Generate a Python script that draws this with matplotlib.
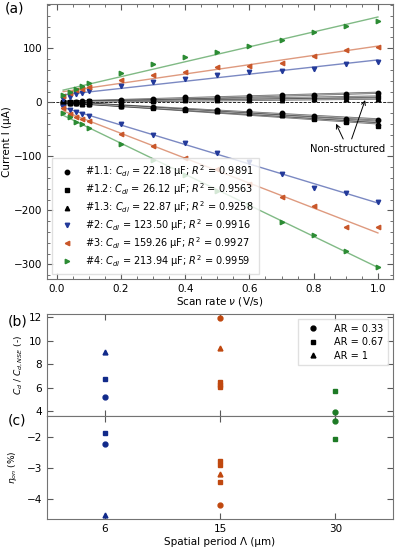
import numpy as np
import matplotlib
matplotlib.use('Agg')
import matplotlib.pyplot as plt

# scan rates (V/s)
scan_rate = [0.02, 0.04, 0.06, 0.08, 0.1, 0.2, 0.3, 0.4, 0.5, 0.6, 0.7, 0.8, 0.9, 1.0]

# anodic / cathodic currents (uA)
s11_an = [0.5, 1.0, 1.5, 2.0, 2.5, 5, 6, 9, 9, 11, 13, 14, 16, 17]
s11_ca = [-0.5, -1.0, -1.5, -2.0, -2.5, -6, -9, -12, -15, -17, -20, -26, -30, -32]
s12_an = [0.3, 0.8, 1.2, 1.5, 2.0, 3, 4, 6, 6, 7, 8, 9, 9, 10]
s12_ca = [-0.8, -1.5, -2.0, -2.5, -3.0, -7, -10, -14, -17, -20, -24, -30, -36, -44]
s13_an = [0.2, 0.5, 0.8, 1.0, 1.3, 2, 3, 4, 4, 5, 5, 6, 6, 6]
s13_ca = [-0.6, -1.2, -1.8, -2.3, -2.8, -7, -9, -13, -16, -19, -23, -29, -34, -38]
s2_an = [7, 10, 15, 17, 21, 30, 37, 44, 50, 56, 58, 62, 70, 75]
s2_ca = [-9, -15, -18, -21, -25, -41, -60, -75, -93, -111, -133, -159, -167, -185]
s3_an = [12, 18, 22, 25, 28, 41, 50, 57, 65, 67, 73, 85, 97, 103]
s3_ca = [-11, -21, -27, -30, -35, -58, -81, -103, -124, -152, -176, -192, -231, -231]
s4_an = [13, 19, 24, 30, 35, 54, 70, 83, 94, 105, 115, 131, 142, 150]
s4_ca = [-20, -27, -37, -41, -47, -78, -106, -135, -165, -191, -222, -245, -275, -305]

labels_a = [r'#1.1: $C_{dl}$ = 22.18 µF; $R^2$ = 0.9891',
            r'#1.2: $C_{dl}$ = 26.12 µF; $R^2$ = 0.9563',
            r'#1.3: $C_{dl}$ = 22.87 µF; $R^2$ = 0.9258',
            r'#2: $C_{dl}$ = 123.50 µF; $R^2$ = 0.9916',
            r'#3: $C_{dl}$ = 159.26 µF; $R^2$ = 0.9927',
            r'#4: $C_{dl}$ = 213.94 µF; $R^2$ = 0.9959']

# panels b and c: spatial period, aspect ratio, value
periods = ['6', '15', '30']
b_period = [0, 0, 0, 1, 1, 1, 1, 1, 2, 2]
b_ar = ['0.33', '0.67', '1', '0.33', '1', '0.67', '0.67', '0.67', '0.67', '0.33']
b_val = [5.22, 6.75, 9.05, 11.9, 9.33, 6.45, 6.25, 6.05, 5.7, 3.94]
c_period = [0, 0, 0, 1, 1, 1, 1, 1, 2, 2]
c_ar = ['0.67', '0.33', '1', '0.67', '0.67', '0.67', '1', '0.33', '0.33', '0.67']
c_val = [-1.87, -2.2, -4.5, -2.78, -2.9, -3.44, -3.18, -4.18, -1.48, -2.06]

blue = '#233a9a'
orange = '#c9572a'
green = '#2c8c34'
period_colors = ['#112a8a', '#c0480f', '#1d7a25']
ar_markers = {'0.33': 'o', '0.67': 's', '1': '^'}

plt.rcParams['font.size'] = 7.5
plt.rcParams['axes.edgecolor'] = '0.45'
plt.rcParams['xtick.color'] = '0.35'
plt.rcParams['ytick.color'] = '0.35'
plt.rcParams['xtick.labelcolor'] = 'black'
plt.rcParams['ytick.labelcolor'] = 'black'

fig = plt.figure(figsize=(3.99, 5.47), dpi=100)
ax_a = fig.add_axes([0.118, 0.49, 0.867, 0.5027])
ax_b = fig.add_axes([0.118, 0.2395, 0.867, 0.1865])
ax_c = fig.add_axes([0.118, 0.0512, 0.867, 0.1883])

v = np.array(scan_rate)


def fit_line(ax, y, color, alpha, lw):
    p = np.polyfit(v, y, 1)
    ax.plot(v, np.polyval(p, v), color=color, alpha=alpha, lw=lw, zorder=2)


series = [(s11_an, s11_ca, 'k', 'o', 0.8),
          (s12_an, s12_ca, 'k', 's', 0.8),
          (s13_an, s13_ca, 'k', '^', 0.8),
          (s2_an, s2_ca, blue, 'v', 0.6),
          (s3_an, s3_ca, orange, '<', 0.6),
          (s4_an, s4_ca, green, '>', 0.6)]

ax_a.axhline(0, color='k', ls='--', lw=0.6, zorder=1)
for (an, ca, col, mk, al), lab in zip(series, labels_a):
    for y in (an, ca):
        if col == 'k':
            fit_line(ax_a, y, '0.2', 0.7, 1.6)
            fit_line(ax_a, y, '0.7', 1.0, 0.6)
        else:
            fit_line(ax_a, y, col, al, 1.0)
    ax_a.plot(v, an, ls='none', marker=mk, color=col, ms=3.2, zorder=3, label=lab)
    ax_a.plot(v, ca, ls='none', marker=mk, color=col, ms=3.2, zorder=3)

ax_a.annotate('Non-structured', xy=(0.963, 9), xytext=(0.907, -87),
              ha='center', va='center', fontsize=7.2,
              arrowprops=dict(arrowstyle='->', color='k', lw=0.7))
ax_a.annotate('Non-structured', xy=(0.866, -35), xytext=(0.907, -87),
              ha='center', va='center', fontsize=7.2, alpha=0,
              arrowprops=dict(arrowstyle='->', color='k', lw=0.7))

ax_a.set_xlim(-0.03, 1.047)
ax_a.set_ylim(-327, 182)
ax_a.set_xticks(np.arange(0, 1.01, 0.2))
ax_a.set_xticks(np.arange(0, 1.01, 0.05), minor=True)
ax_a.set_yticks([-300, -200, -100, 0, 100])
ax_a.set_yticks(np.arange(-320, 181, 20), minor=True)
ax_a.set_xlabel(r'Scan rate $\nu$ (V/s)', labelpad=1)
ax_a.set_ylabel('Current I (µA)', labelpad=1)
ax_a.tick_params(which='both', direction='in', top=True, right=True)
ax_a.tick_params(which='major', length=4)
ax_a.tick_params(which='minor', length=2)
ax_a.legend(loc='lower left', fontsize=7.0, handletextpad=0.8, borderpad=0.55,
            labelspacing=0.22, framealpha=0.8, edgecolor='0.85', fancybox=False,
            bbox_to_anchor=(0.0, 0.0))

# panel b
for p, ar, val in zip(b_period, b_ar, b_val):
    ax_b.plot(p, val, ls='none', marker=ar_markers[ar], color=period_colors[p], ms=3.5)
for ar in ['0.33', '0.67', '1']:
    ax_b.plot([], [], ls='none', marker=ar_markers[ar], color='k', ms=3.5, label='AR = ' + ar)
ax_b.legend(loc='upper right', fontsize=7.0, framealpha=0.8, edgecolor='0.85',
            fancybox=False, handletextpad=1.2, borderpad=0.5, labelspacing=0.35)
ax_b.set_xlim(-0.5, 2.5)
ax_b.set_ylim(3.6, 12.25)
ax_b.set_yticks([4, 6, 8, 10, 12])
ax_b.set_xticks([0, 1, 2])
ax_b.set_xticklabels([])
ax_b.set_ylabel(r'$C_d$ / $C_{d,NSE}$ (-)', fontsize=6.5, labelpad=3)
ax_b.tick_params(direction='in', top=True, right=True, length=4)

# panel c
for p, ar, val in zip(c_period, c_ar, c_val):
    ax_c.plot(p, val, ls='none', marker=ar_markers[ar], color=period_colors[p], ms=3.5)
ax_c.set_xlim(-0.5, 2.5)
ax_c.set_ylim(-4.64, -1.31)
ax_c.set_yticks([-4, -3, -2])
ax_c.set_xticks([0, 1, 2])
ax_c.set_xticklabels(periods)
ax_c.set_xlabel('Spatial period Λ (µm)', labelpad=2)
ax_c.set_ylabel(r'$\eta_{on}$ (%)', fontsize=6.5, labelpad=6)
ax_c.tick_params(direction='in', top=True, right=True, length=4)

fig.text(0.012, 0.985, '(a)', fontsize=10, va='center')
fig.text(0.02, 0.413, '(b)', fontsize=10, va='center')
fig.text(0.02, 0.232, '(c)', fontsize=10, va='center')

fig.savefig('out.png', dpi=100)
